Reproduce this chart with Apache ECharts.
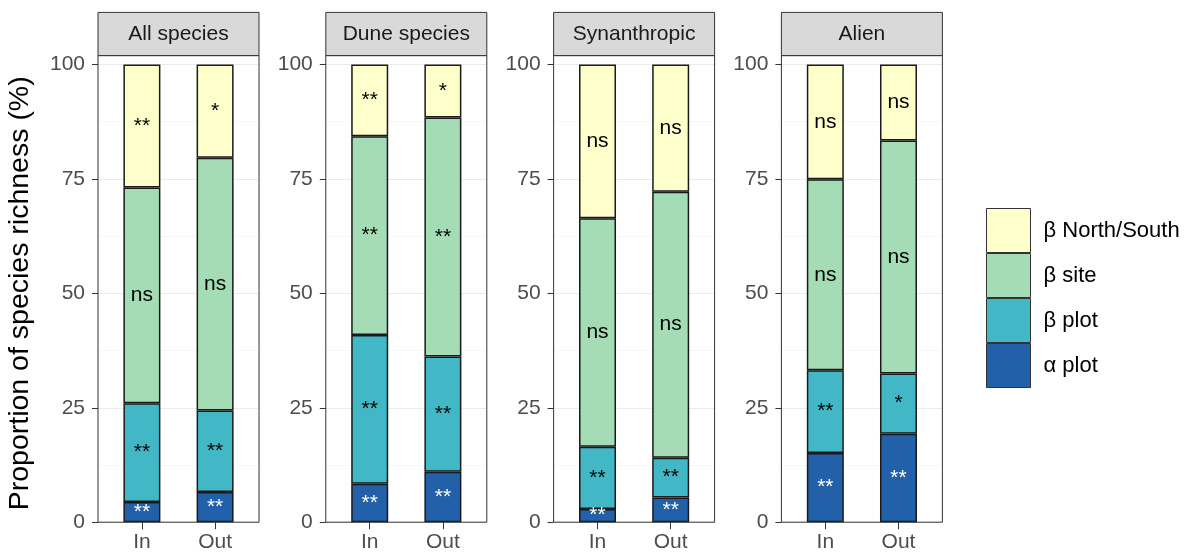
<!DOCTYPE html>
<html>
<head>
<meta charset="utf-8">
<script src="https://cdn.jsdelivr.net/npm/echarts@6/dist/echarts.min.js"></script>
<style>
html,body{margin:0;padding:0;background:#fff;}
#chart{width:1195px;height:555px;}
</style>
</head>
<body>
<div id="chart"></div>
<script>
// ---- data ----
const panels = ['All species', 'Dune species', 'Synanthropic', 'Alien'];
const categories = ['In', 'Out'];
const seriesNames = ['α plot', 'β plot', 'β site', 'β North/South'];
const legendOrder = ['β North/South', 'β site', 'β plot', 'α plot'];
const yTicks = [0, 25, 50, 75, 100];
// values per panel: [In, Out] pairs in panel order
const alphaPlot   = [4.4, 6.6,   8.4, 11.0,   2.9, 5.4,   15.1, 19.3];
const betaPlot    = [21.6, 17.8, 32.5, 25.2,  13.6, 8.7,  18.1, 13.2];
const betaSite    = [47.1, 55.2, 43.4, 52.2,  49.9, 58.1, 41.7, 50.9];
const betaNS      = [26.9, 20.4, 15.7, 11.6,  33.6, 27.8, 25.1, 16.6];
const alphaSig    = ['**', '**', '**', '**', '**', '**', '**', '**'];
const betaPlotSig = ['**', '**', '**', '**', '**', '**', '**', '*'];
const betaSiteSig = ['ns', 'ns', '**', '**', 'ns', 'ns', 'ns', 'ns'];
const betaNSSig   = ['**', '*', '**', '*', 'ns', 'ns', 'ns', 'ns'];

// ---- style / layout ----
const colors = ['#2260A9', '#42B8C6', '#A3DCB5', '#FFFFCC'];
const labelColors = ['#FFFFFF', '#000000', '#000000', '#000000'];
const values = [alphaPlot, betaPlot, betaSite, betaNS];
const sigs = [alphaSig, betaPlotSig, betaSiteSig, betaNSSig];
const panelLefts = [98, 325.8, 553.6, 781.4];
const panelW = 161;
const gridTop = 64.4, gridBottomY = 522.2, panelTop = 55.6, stripTop = 12.4;
// discrete axis with ggplot-style 0.6 expansion: 12 slots (boundaryGap false), categories at slots 3 and 8
const nSlots = 12, slotIdx = [3, 8];
const slotLabels = Array.from({length: nSlots}, (_, k) => {
  const j = slotIdx.indexOf(k);
  return j >= 0 ? categories[j] : '';
});

const grids = [], xAxes = [], yAxes = [], series = [], graphics = [];
panels.forEach((p, pi) => {
  grids.push({left: panelLefts[pi], top: gridTop, width: panelW, height: gridBottomY - gridTop, containLabel: false});
  xAxes.push({
    type: 'category', gridIndex: pi, data: slotLabels, boundaryGap: false,
    axisLine: {show: false}, splitLine: {show: false},
    axisTick: {show: true, interval: (i) => slotIdx.indexOf(i) >= 0, length: 7, lineStyle: {color: '#333', width: 1}},
    axisLabel: {interval: 0, fontSize: 21, color: '#4D4D4D', margin: 10, fontFamily: 'Liberation Sans, Arial'}
  });
  yAxes.push({
    type: 'value', gridIndex: pi, min: 0, max: 100, interval: 25,
    name: pi === 0 ? 'Proportion of species richness (%)' : '',
    nameLocation: 'middle', nameRotate: 90, nameGap: 63,
    nameTextStyle: {fontSize: 28.5, color: '#000', fontFamily: 'Liberation Sans, Arial'},
    axisLine: {show: false},
    axisTick: {show: true, length: 6, lineStyle: {color: '#333', width: 1}},
    axisLabel: {fontSize: 21, color: '#4D4D4D', margin: 13, fontFamily: 'Liberation Sans, Arial',
      formatter: v => (yTicks.indexOf(v) >= 0 ? String(v) : '')},
    splitLine: {show: true, lineStyle: {color: '#EBEBEB', width: 1}},
    minorTick: {show: false, splitNumber: 2},
    minorSplitLine: {show: true, lineStyle: {color: '#F3F3F3', width: 0.7}}
  });
  seriesNames.forEach((sn, si) => {
    const vals = values[si], sg = sigs[si];
    const data = slotLabels.map((lab, k) => {
      const j = slotIdx.indexOf(k);
      return j >= 0 ? vals[pi * 2 + j] : '-';
    });
    series.push({
      name: sn, type: 'bar', xAxisIndex: pi, yAxisIndex: pi, stack: 'p' + pi,
      barWidth: 37,
      data: data,
      itemStyle: {color: colors[si], borderColor: '#1A1A1A', borderWidth: 1.5},
      label: {show: true, position: 'inside', fontSize: 21, color: labelColors[si],
        fontFamily: 'Liberation Sans, Arial',
        formatter: prm => {
          const j = slotIdx.indexOf(prm.dataIndex);
          return j >= 0 ? sg[pi * 2 + j] : '';
        }},
      emphasis: {disabled: true},
      animation: false
    });
  });
  graphics.push({
    type: 'rect', z: 100, silent: true,
    shape: {x: panelLefts[pi], y: panelTop, width: panelW, height: gridBottomY - panelTop},
    style: {fill: 'none', stroke: '#333', lineWidth: 1}
  });
  graphics.push({
    type: 'rect', z: 100, silent: true,
    shape: {x: panelLefts[pi], y: stripTop, width: panelW, height: panelTop - stripTop},
    style: {fill: '#D9D9D9', stroke: '#333', lineWidth: 1}
  });
  graphics.push({
    type: 'text', z: 101, silent: true,
    x: panelLefts[pi] + panelW / 2, y: (stripTop + panelTop) / 2,
    style: {text: p, fill: '#1A1A1A', fontSize: 21, fontFamily: 'Liberation Sans, Arial',
      align: 'center', verticalAlign: 'middle'}
  });
});

const chart = echarts.init(document.getElementById('chart'), null, {renderer: 'canvas'});
chart.setOption({
  animation: false,
  backgroundColor: '#fff',
  grid: grids, xAxis: xAxes, yAxis: yAxes, series: series,
  legend: {
    data: legendOrder, orient: 'vertical', left: 986, top: 208, padding: 0,
    itemWidth: 44, itemHeight: 44, itemGap: 0, icon: 'rect',
    itemStyle: {borderColor: '#333', borderWidth: 1},
    textStyle: {fontSize: 22, color: '#000', padding: [0, 0, 0, 8], fontFamily: 'Liberation Sans, Arial'},
    selectedMode: false
  },
  graphic: graphics
});
</script>
</body>
</html>
